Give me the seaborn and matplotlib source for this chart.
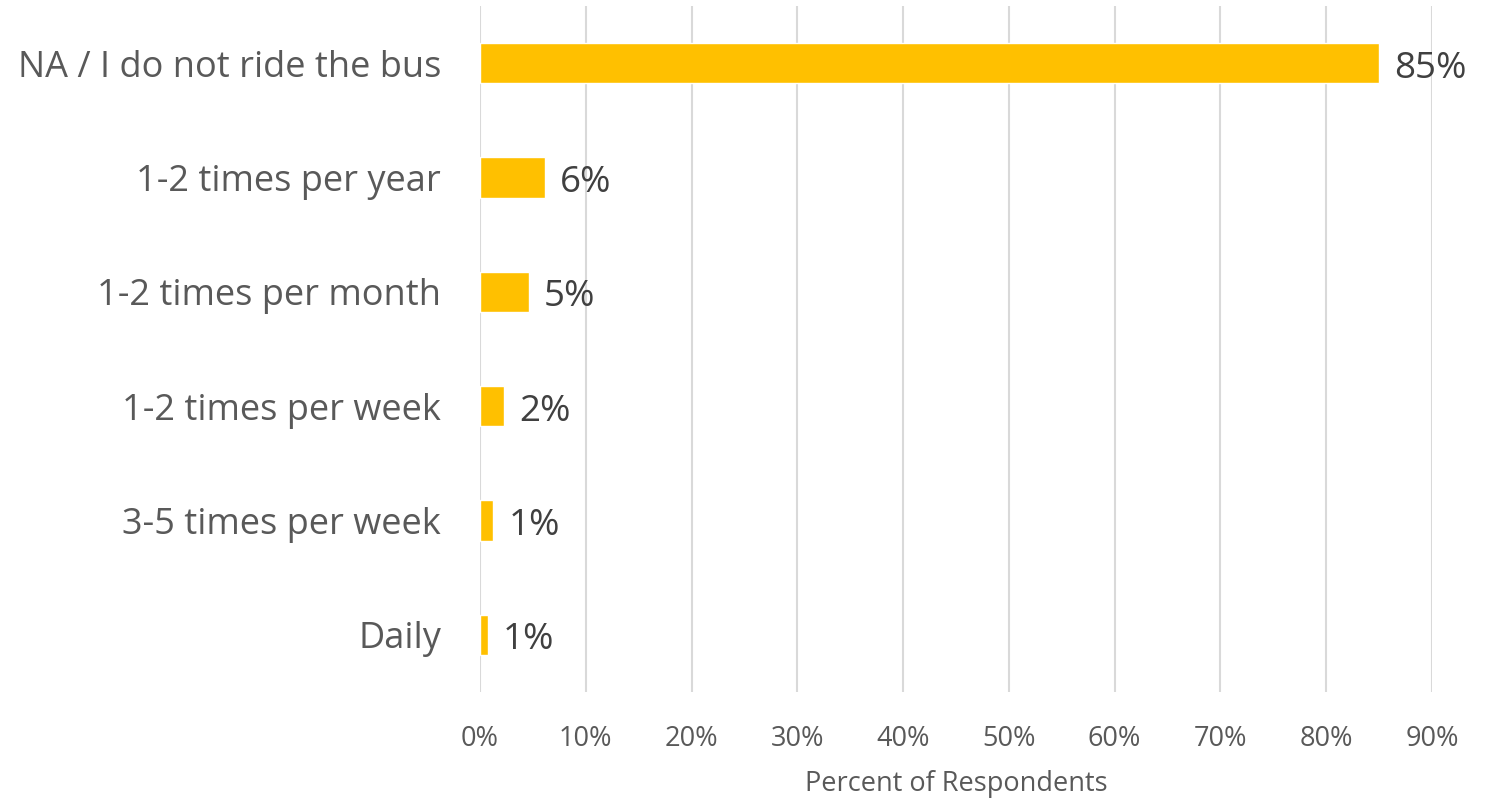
import matplotlib
matplotlib.use("Agg")
import matplotlib.pyplot as plt
import seaborn as sns
import pandas as pd
from matplotlib.ticker import FuncFormatter

categories = ["NA / I do not ride the bus", "1-2 times per year", "1-2 times per month",
              "1-2 times per week", "3-5 times per week", "Daily"]
values = [84.99, 6.14, 4.6, 2.3, 1.26, 0.73]
value_labels = ["85%", "6%", "5%", "2%", "1%", "1%"]
x_ticks = [0, 10, 20, 30, 40, 50, 60, 70, 80, 90]
x_title = "Percent of Respondents"

sns.set_theme(style="white")
plt.rcParams['font.family'] = ['Open Sans', 'DejaVu Sans']

df = pd.DataFrame({"cat": categories, "val": values})

fig = plt.figure(figsize=(14.86, 8.01), dpi=100)
ax = fig.add_axes([480/1486, 1-692/801, (1432-480)/1486, (692-6)/801])

sns.barplot(data=df, y="cat", x="val", orient="h", color="#FFC000", saturation=1,
            width=0.35, ax=ax, zorder=3)

ax.set_xlim(0, 90)
ax.set_ylim(5.5, -0.5)
ax.set_xticks(x_ticks)
ax.xaxis.set_major_formatter(FuncFormatter(lambda v, p: f"{v:.0f}%"))
ax.grid(axis="x", color="#D9D9D9", linewidth=1.5, zorder=0)
ax.set_axisbelow(True)
for s in ax.spines.values():
    s.set_visible(False)

ax.tick_params(axis="x", length=0, pad=24, labelsize=19.5, labelcolor="#595959")
ax.tick_params(axis="y", length=0, pad=28, labelsize=26, labelcolor="#595959")
ax.set_ylabel("")
ax.set_xlabel(x_title, fontsize=19.5, color="#595959", labelpad=12)

for i, (v, lab) in enumerate(zip(values, value_labels)):
    ax.annotate(lab, xy=(v, i), xytext=(11, -4), textcoords="offset points",
                ha="left", va="center", fontsize=26.5, color="#404040", zorder=1)

fig.savefig("out.png", dpi=100)
